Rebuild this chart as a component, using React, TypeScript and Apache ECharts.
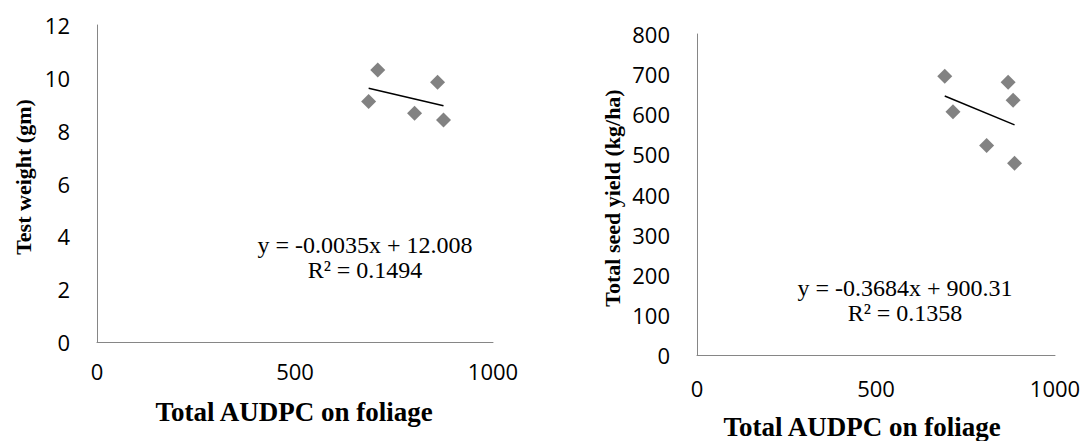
import React, { useEffect, useRef } from "react";
import * as echarts from "echarts";

// Left panel: Total AUDPC on foliage vs Test weight (gm)
const leftX = [686, 709, 802, 860, 875];
const leftY = [9.1, 10.3, 8.66, 9.83, 8.4];
const leftSlope = -0.0035;
const leftIntercept = 12.008;
const leftEq = "y = -0.0035x + 12.008";
const leftR2 = "R² = 0.1494";

// Right panel: Total AUDPC on foliage vs Total seed yield (kg/ha)
const rightX = [692, 715, 809, 869, 883, 887];
const rightY = [695, 606, 522, 680, 635, 478];
const rightSlope = -0.3684;
const rightIntercept = 900.31;
const rightEq = "y = -0.3684x + 900.31";
const rightR2 = "R² = 0.1358";

const xTitle = "Total AUDPC on foliage";
const leftYTitle = "Test weight (gm)";
const rightYTitle = "Total seed yield (kg/ha)";

const trend = (xs: number[], m: number, b: number) => {
  const lo = Math.min(...xs);
  const hi = Math.max(...xs);
  return [
    [lo, m * lo + b],
    [hi, m * hi + b],
  ];
};

const tickFont = { fontFamily: "Open Sans", fontSize: 22, color: "#000", formatter: (v: number) => String(v) };
const axisLineStyle = { lineStyle: { color: "#868686", width: 1 } };
const serif = "Liberation Serif";

const txt = (text: string, x: number, y: number, size: number, bold: boolean, rot = 0) => ({
  type: "text",
  x,
  y,
  rotation: rot,
  style: {
    text,
    fontFamily: serif,
    fontSize: size,
    fontWeight: bold ? "bold" : "normal",
    fill: "#000",
    align: "center",
    verticalAlign: "middle",
  },
});

export default function App() {
  const ref = useRef<HTMLDivElement>(null);
  useEffect(() => {
    if (!ref.current) return;
    const chart = echarts.init(ref.current, null, { renderer: "svg" });
    chart.setOption({
      animation: false,
      backgroundColor: "#fff",
      grid: [
        { left: 97, top: 25, width: 396, height: 317 },
        { left: 697, top: 34, width: 358, height: 321 },
      ],
      xAxis: [
        {
          gridIndex: 0, type: "value", min: 0, max: 1000, interval: 500,
          axisLine: axisLineStyle, axisTick: { show: false }, splitLine: { show: false },
          axisLabel: { ...tickFont, margin: 18 },
        },
        {
          gridIndex: 1, type: "value", min: 0, max: 1000, interval: 500,
          axisLine: axisLineStyle, axisTick: { show: false }, splitLine: { show: false },
          axisLabel: { ...tickFont, margin: 22 },
        },
      ],
      yAxis: [
        {
          gridIndex: 0, type: "value", min: 0, max: 12, interval: 2,
          axisLine: { show: true, ...axisLineStyle }, axisTick: { show: false }, splitLine: { show: false },
          axisLabel: { ...tickFont, margin: 27 },
        },
        {
          gridIndex: 1, type: "value", min: 0, max: 800, interval: 100,
          axisLine: { show: true, ...axisLineStyle }, axisTick: { show: false }, splitLine: { show: false },
          axisLabel: { ...tickFont, margin: 27 },
        },
      ],
      series: [
        {
          type: "scatter", xAxisIndex: 0, yAxisIndex: 0,
          data: leftX.map((x, i) => [x, leftY[i]]),
          symbol: "diamond", symbolSize: 15,
          itemStyle: { color: "#636363" },
        },
        {
          type: "line", xAxisIndex: 0, yAxisIndex: 0,
          data: trend(leftX, leftSlope, leftIntercept),
          symbol: "none", lineStyle: { color: "#000", width: 1.5 },
        },
        {
          type: "scatter", xAxisIndex: 1, yAxisIndex: 1,
          data: rightX.map((x, i) => [x, rightY[i]]),
          symbol: "diamond", symbolSize: 15,
          itemStyle: { color: "#636363" },
        },
        {
          type: "line", xAxisIndex: 1, yAxisIndex: 1,
          data: trend(rightX, rightSlope, rightIntercept),
          symbol: "none", lineStyle: { color: "#000", width: 1.5 },
        },
      ],
      graphic: [
        txt(xTitle, 294, 412, 27, true),
        txt(xTitle, 862, 427, 27, true),
        txt(leftYTitle, 23, 177, 22, true, Math.PI / 2),
        txt(rightYTitle, 612, 198, 22, true, Math.PI / 2),
        txt(leftEq, 365, 245, 24, false),
        txt(leftR2, 365, 270, 24, false),
        txt(rightEq, 905, 288, 24, false),
        txt(rightR2, 905, 313, 24, false),
      ],
    });
    return () => chart.dispose();
  }, []);
  return (
    <div
      ref={ref}
      style={{ position: "absolute", left: 0, top: 0, width: 1088, height: 441 }}
    />
  );
}
